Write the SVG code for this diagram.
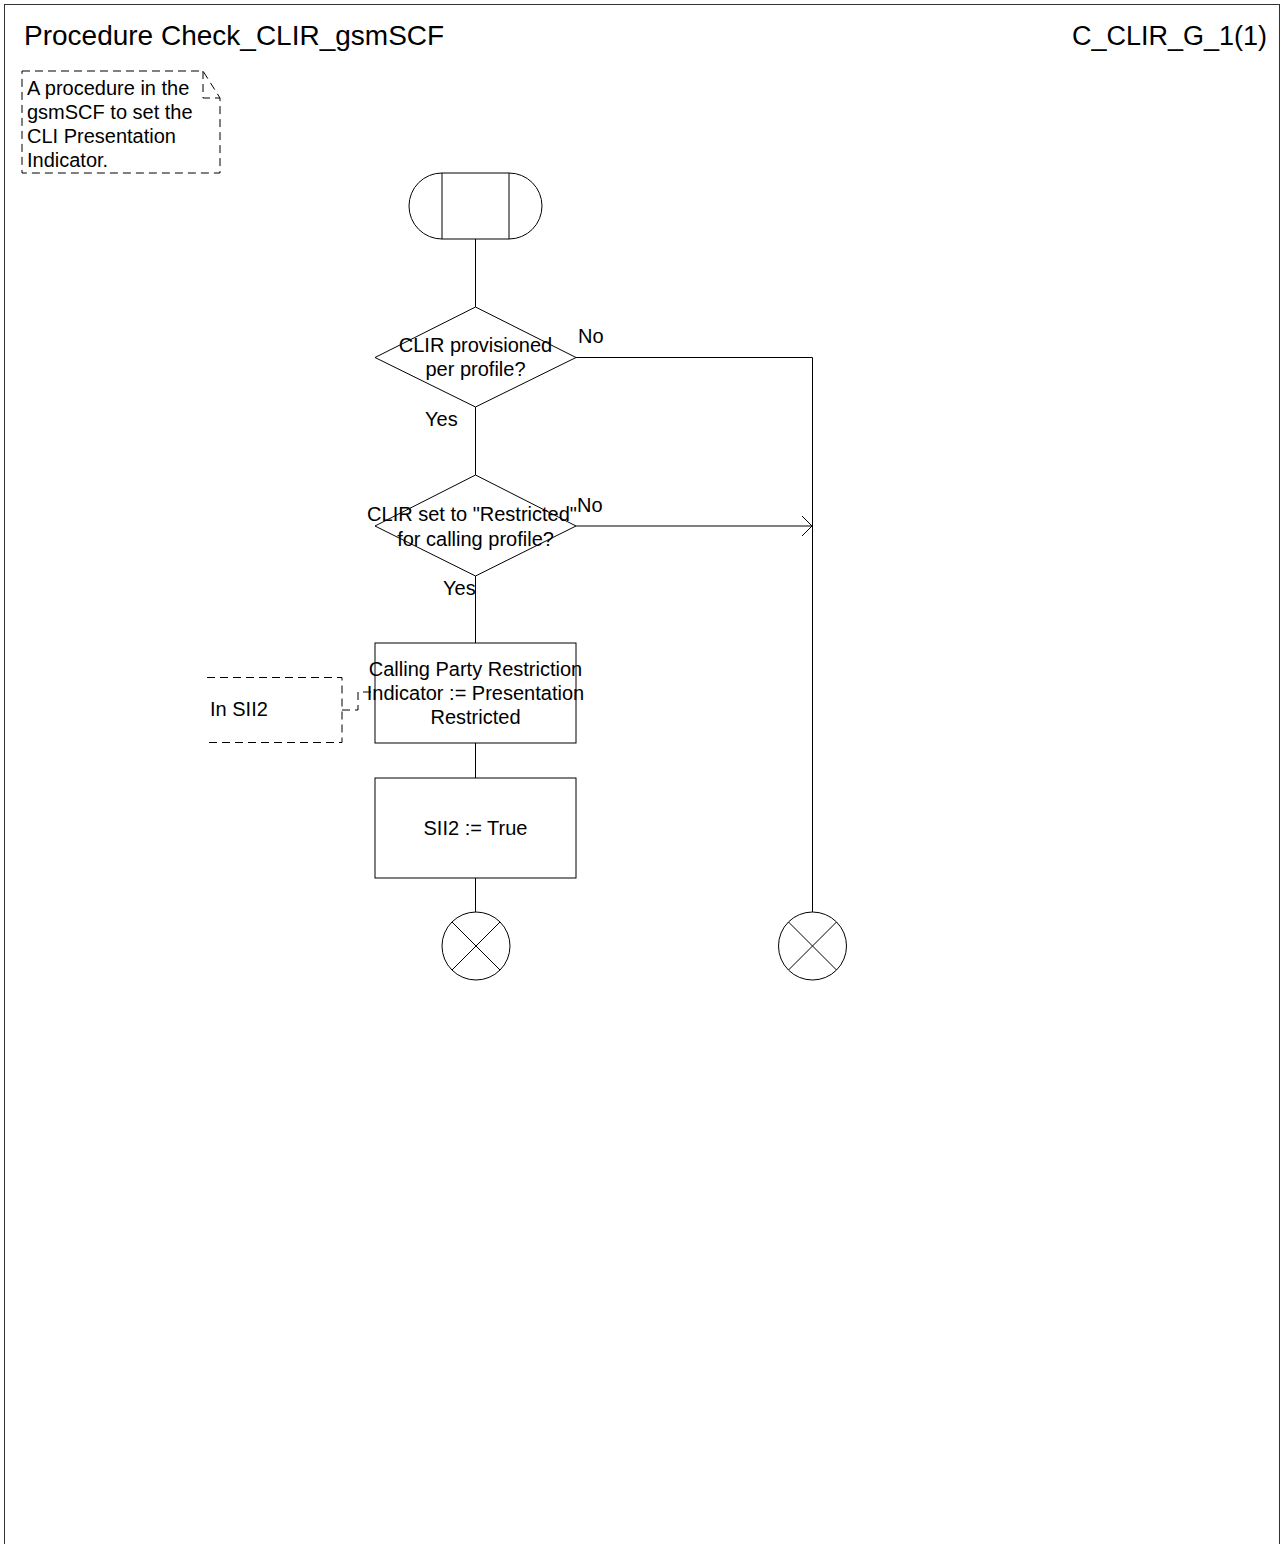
<svg xmlns="http://www.w3.org/2000/svg" width="1283" height="1544" viewBox="0 0 1283 1544">
<style>
  text { font-family: "Liberation Sans", Arial, sans-serif; fill: #000; }
  .t { font-size: 20px; }
  .c { text-anchor: middle; }
  .title { font-size: 28px; }
  .shape { fill: #fff; stroke: #000; stroke-width: 1; }
  .line { fill: none; stroke: #000; stroke-width: 1; }
  .dash { fill: none; stroke: #000; stroke-width: 1; stroke-dasharray: 8 5; }
</style>
<defs>
  <marker id="open" viewBox="0 0 12 22" refX="11" refY="11" markerWidth="12" markerHeight="22" markerUnits="userSpaceOnUse" orient="auto">
    <path d="M1,1 L11,11 L1,21" fill="none" stroke="#000" stroke-width="1"/>
  </marker>
</defs>
<rect x="0" y="0" width="1283" height="1544" fill="#fff"/>
<g id="frame">
  <rect x="4.5" y="4.5" width="1275" height="1600" fill="none" stroke="#333" stroke-width="1"/>
  <text class="title" x="24" y="45">Procedure Check_CLIR_gsmSCF</text>
  <text class="title" x="1267" y="45" text-anchor="end" style="font-size:27px">C_CLIR_G_1(1)</text>
</g>
<g id="note">
  <path class="dash" d="M22,71 L203,71 L220,98 L220,173 L22,173 Z"/>
  <path class="dash" d="M203,71 L203,98 L220,98"/>
  <text class="t" x="27" y="95">A procedure in the</text>
  <text class="t" x="27" y="119">gsmSCF to set the</text>
  <text class="t" x="27" y="143">CLI Presentation</text>
  <text class="t" x="27" y="167">Indicator.</text>
</g>
<g id="connectors">
  <line class="line" x1="475.5" y1="239" x2="475.5" y2="307"/>
  <line class="line" x1="475.5" y1="407" x2="475.5" y2="475"/>
  <line class="line" x1="475.5" y1="576" x2="475.5" y2="643"/>
  <line class="line" x1="475.5" y1="743" x2="475.5" y2="778"/>
  <line class="line" x1="475.5" y1="878" x2="475.5" y2="912"/>
  <polyline class="line" points="576,357.5 812.5,357.5 812.5,912"/>
  <line class="line" x1="576" y1="526" x2="812" y2="526" marker-end="url(#open)"/>
  <polyline class="dash" points="342,710 358,710 358,692 375,692"/>
  <text class="t" x="578" y="343">No</text>
  <text class="t" x="425" y="426">Yes</text>
  <text class="t" x="577" y="512">No</text>
  <text class="t" x="443" y="595">Yes</text>
</g>
<g id="start">
  <path class="shape" d="M442,173 L509,173 A33,33 0 0 1 509,239 L442,239 A33,33 0 0 1 442,173 Z"/>
  <line class="line" x1="442" y1="173" x2="442" y2="239"/>
  <line class="line" x1="509" y1="173" x2="509" y2="239"/>
</g>
<g id="dec1">
  <polygon class="shape" points="475.5,307 576,357.5 475.5,407 375,357.5"/>
  <text class="t c" x="475.5" y="352">CLIR provisioned</text>
  <text class="t c" x="475.5" y="376">per profile?</text>
</g>
<g id="dec2">
  <polygon class="shape" points="475.5,475 576,526 475.5,576 375,526"/>
  <text class="t c" x="472" y="521">CLIR set to "Restricted"</text>
  <text class="t c" x="475.5" y="546">for calling profile?</text>
</g>
<g id="task1">
  <rect class="shape" x="375" y="643" width="201" height="100"/>
  <text class="t c" x="475.5" y="676">Calling Party Restriction</text>
  <text class="t c" x="475.5" y="700">Indicator := Presentation</text>
  <text class="t c" x="475.5" y="724">Restricted</text>
</g>
<g id="comment">
  <polyline class="dash" points="207,677.5 342,677.5 342,742.5 207,742.5"/>
  <text class="t" x="210" y="716">In SII2</text>
</g>
<g id="task2">
  <rect class="shape" x="375" y="778" width="201" height="100"/>
  <text class="t c" x="475.5" y="835">SII2 := True</text>
</g>
<g id="stop1">
  <circle class="shape" cx="476" cy="946" r="34"/>
  <line class="line" x1="452" y1="922" x2="500" y2="970"/>
  <line class="line" x1="500" y1="922" x2="452" y2="970"/>
</g>
<g id="stop2">
  <circle class="shape" cx="812.5" cy="946" r="34"/>
  <line class="line" x1="788.5" y1="922" x2="836.5" y2="970"/>
  <line class="line" x1="836.5" y1="922" x2="788.5" y2="970"/>
</g>
</svg>
